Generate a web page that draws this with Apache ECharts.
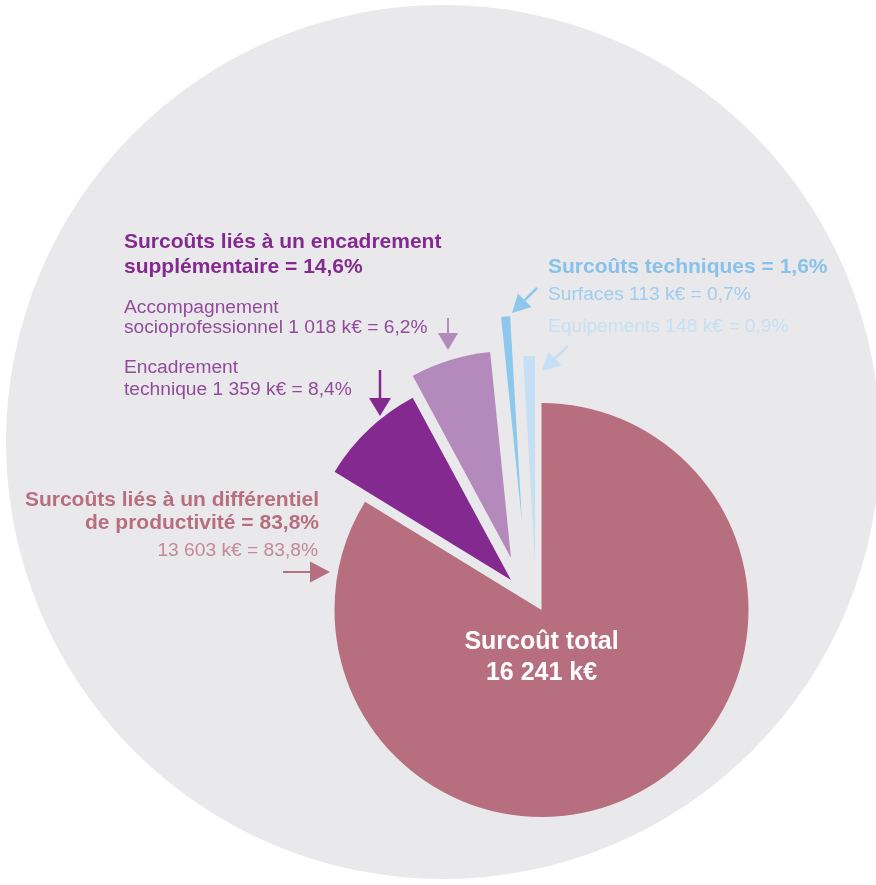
<!DOCTYPE html>
<html>
<head>
<meta charset="utf-8">
<script src="https://cdn.jsdelivr.net/npm/echarts@6/dist/echarts.min.js"></script>
<style>
html,body{margin:0;padding:0;background:#ffffff;}
#chart{width:876px;height:885px;}
</style>
</head>
<body>
<div id="chart"></div>
<script>
// ---- Data (k€) ----
const categories = [
  'Surcoûts liés à un différentiel de productivité',
  'Encadrement technique',
  'Accompagnement socioprofessionnel',
  'Surfaces',
  'Equipements'
];
const valuesKEuro = [13603, 1359, 1018, 113, 148];
const totalLabel = ['Surcoût total', '16 241 k€'];

// ---- Styles / layout ----
const sliceColors = ['#b76e7e', '#84298f', '#b48abd', '#8ec7ec', '#c5e0f4'];
const sliceCenters = [[541.5, 610], [511, 580], [511, 558], [522, 523], [535, 563]];
const R = 207;
const FONT = '"Liberation Sans", Arial, Helvetica, sans-serif';

const chart = echarts.init(document.getElementById('chart'), null, {renderer: 'canvas'});

const series = categories.map((name, k) => ({
  type: 'pie',
  name: name,
  center: sliceCenters[k],
  radius: R,
  startAngle: 90,
  clockwise: true,
  silent: true,
  animation: false,
  minAngle: 0,
  label: {show: false},
  labelLine: {show: false},
  emphasis: {disabled: true},
  z: 2,
  data: categories.map((n, i) => ({
    name: n,
    value: valuesKEuro[i],
    itemStyle: {color: sliceColors[i], opacity: i === k ? 1 : 0, borderWidth: 0}
  }))
}));

function txt(text, x, baseline, size, bold, color, align) {
  return {
    type: 'text', x: x, y: baseline - (bold ? 0.2 : 0.28) * size, z: 100, silent: true,
    style: {
      text: text, fill: color, textAlign: align || 'left', textVerticalAlign: 'middle',
      font: (bold ? 'bold ' : '') + size + 'px ' + FONT
    }
  };
}
function arrow(x1, y1, x2, y2, color, headLen, headHalf, lw) {
  const dx = x2 - x1, dy = y2 - y1, L = Math.sqrt(dx * dx + dy * dy);
  const ux = dx / L, uy = dy / L, px = -uy, py = ux;
  const bx = x2 - ux * headLen, by = y2 - uy * headLen;
  return {
    type: 'group', z: 100, silent: true,
    children: [
      {type: 'line', shape: {x1: x1, y1: y1, x2: bx + ux, y2: by + uy}, style: {stroke: color, lineWidth: lw}},
      {type: 'polygon', shape: {points: [[x2, y2], [bx + px * headHalf, by + py * headHalf], [bx - px * headHalf, by - py * headHalf]]}, style: {fill: color}}
    ]
  };
}

const purple = '#84298f', purpleTxt = '#934a9d';
const mauve = '#b76e7e', mauveTxt = '#c48896';
const blue = '#86c2ea', blueTxt = '#9fcdef', lightBlueTxt = '#c6e0f4';
const RS = 19.2;

const graphic = [
  {type: 'circle', z: -10, silent: true, shape: {cx: 443, cy: 442, r: 437}, style: {fill: '#e9e9eb'}},
  // encadrement
  txt('Surcoûts liés à un encadrement', 124, 246.5, 21, true, purple),
  txt('supplémentaire = 14,6%', 124, 271.5, 21, true, purple),
  txt('Accompagnement', 124, 312.7, RS, false, purpleTxt),
  txt('socioprofessionnel 1 018 k€ = 6,2%', 124, 333.5, RS, false, purpleTxt),
  txt('Encadrement', 124, 373.5, RS, false, purpleTxt),
  txt('technique 1 359 k€ = 8,4%', 124, 395.5, RS, false, purpleTxt),
  // techniques
  txt('Surcoûts techniques = 1,6%', 548, 271.7, 21, true, blue),
  txt('Surfaces 113 k€ = 0,7%', 548, 300, RS, false, blueTxt),
  txt('Equipements 148 k€ = 0,9%', 548, 331.7, RS, false, lightBlueTxt),
  // productivité
  txt('Surcoûts liés à un différentiel', 319, 504, 21, true, mauve, 'right'),
  txt('de productivité = 83,8%', 319, 527, 21, true, mauve, 'right'),
  txt('13 603 k€ = 83,8%', 318, 556, RS, false, mauveTxt, 'right'),
  // total
  txt(totalLabel[0], 541.5, 646.7, 25, true, '#ffffff', 'center'),
  txt(totalLabel[1], 541.5, 678, 25, true, '#ffffff', 'center'),
  // arrows
  arrow(448, 318, 448, 350, '#b48abd', 17, 10, 2),
  arrow(380, 370, 380, 416, purple, 18, 11, 2.5),
  arrow(537, 288, 512, 313, '#8ec7ec', 18, 9.5, 2.5),
  arrow(568, 346, 542, 371, '#c5e0f4', 18, 9.5, 2.5),
  arrow(283, 572, 330, 572, mauve, 20, 10.5, 2)
];

chart.setOption({
  backgroundColor: '#ffffff',
  animation: false,
  graphic: graphic,
  series: series
});
</script>
</body>
</html>
